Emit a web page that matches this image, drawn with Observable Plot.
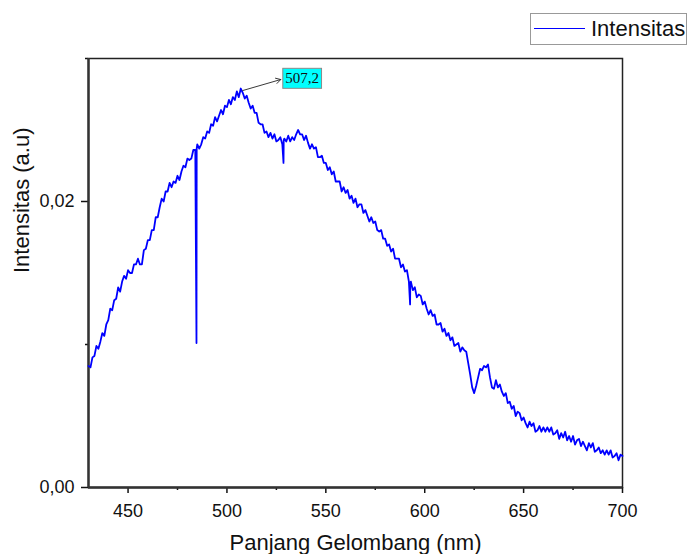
<!DOCTYPE html>
<html><head><meta charset="utf-8">
<script src="https://cdn.jsdelivr.net/npm/d3@7"></script>
<script src="https://cdn.jsdelivr.net/npm/@observablehq/plot@0.6"></script>
<style>
body{margin:0;background:#fff;}
#wrap{position:relative;width:688px;height:554px;font-family:"Liberation Sans",Arial,sans-serif;}
#legend{position:absolute;left:530px;top:13px;width:157px;height:32px;border:1.5px solid #999;background:#fff;box-sizing:border-box;}
#legend .sw{position:absolute;left:3px;top:14px;width:51px;height:0;border-top:1.6px solid #0000ff;}
#legend .lb{position:absolute;left:60px;top:1px;font-size:22px;line-height:28px;color:#111;}
</style></head>
<body>
<div id="wrap"><div id="legend"><div class="sw"></div><div class="lb">Intensitas</div></div></div>
<script>
// wavelengths 430..700 nm, step 1
const wavelengths = d3.range(430, 701);
const intensity = [
0.0085,0.0084,0.0091,0.0092,0.0099,0.0097,0.0102,0.0108,0.0106,0.0114,
0.0117,0.0125,0.0124,0.0131,0.0132,0.0140,0.0137,0.0144,0.0148,0.0146,
0.0152,0.0150,0.0150,0.0156,0.0156,0.0160,0.0156,0.0156,0.0166,0.0167,
0.0173,0.0173,0.0180,0.0180,0.0189,0.0189,0.0196,0.0202,0.0200,0.0207,
0.0207,0.0213,0.0210,0.0214,0.0213,0.0218,0.0215,0.0221,0.0225,0.0224,
0.0230,0.0229,0.0230,0.0236,0.0236,0.0240,0.0237,0.0240,0.0245,0.0244,
0.0249,0.0248,0.0254,0.0253,0.0259,0.0256,0.0260,0.0264,0.0261,0.0267,
0.0266,0.0271,0.0268,0.0273,0.0271,0.0277,0.0273,0.0279,0.0276,0.0272,
0.0274,0.0269,0.0265,0.0267,0.0262,0.0262,0.0255,0.0254,0.0254,0.0248,
0.0249,0.0245,0.0248,0.0244,0.0247,0.0242,0.0243,0.0245,0.0240,0.0244,
0.0242,0.0246,0.0242,0.0245,0.0243,0.0247,0.0250,0.0247,0.0247,0.0243,
0.0246,0.0241,0.0237,0.0240,0.0237,0.0238,0.0231,0.0231,0.0232,0.0227,
0.0227,0.0222,0.0224,0.0219,0.0221,0.0214,0.0214,0.0214,0.0207,0.0210,
0.0206,0.0208,0.0202,0.0204,0.0199,0.0202,0.0196,0.0198,0.0198,0.0192,
0.0194,0.0190,0.0186,0.0189,0.0185,0.0186,0.0180,0.0179,0.0180,0.0174,
0.0174,0.0169,0.0170,0.0165,0.0167,0.0160,0.0160,0.0160,0.0154,0.0156,
0.0151,0.0152,0.0144,0.0144,0.0138,0.0140,0.0133,0.0135,0.0134,0.0128,
0.0130,0.0125,0.0121,0.0124,0.0120,0.0121,0.0114,0.0114,0.0115,0.0109,
0.0111,0.0106,0.0108,0.0103,0.0105,0.0099,0.0100,0.0101,0.0095,0.0098,
0.0096,0.0095,0.0087,0.0079,0.0070,0.0066,0.0071,0.0077,0.0083,0.0082,
0.0085,0.0084,0.0086,0.0077,0.0070,0.0069,0.0075,0.0070,0.0072,0.0067,
0.0064,0.0066,0.0059,0.0060,0.0055,0.0057,0.0050,0.0053,0.0052,0.0047,
0.0049,0.0045,0.0042,0.0046,0.0043,0.0045,0.0039,0.0040,0.0043,0.0039,
0.0042,0.0039,0.0042,0.0039,0.0042,0.0037,0.0038,0.0040,0.0034,0.0038,
0.0035,0.0039,0.0033,0.0036,0.0032,0.0036,0.0030,0.0033,0.0034,0.0029,
0.0032,0.0029,0.0026,0.0031,0.0028,0.0031,0.0025,0.0026,0.0028,0.0024,
0.0026,0.0023,0.0026,0.0023,0.0026,0.0021,0.0022,0.0024,0.0019,0.0023,
0.0022
];
// narrow spikes in the spectrum
const spikeWl  = [484.6, 484.7, 528.6, 528.7, 592.6, 592.7];
const spikeVal = [0.0101, 0.0237, 0.0227, 0.0243, 0.0128, 0.0143];

const xMajor = [450, 500, 550, 600, 650, 700];
const xMinor = [475, 525, 575, 625, 675];
const yMajor = [0, 0.02];
const yMinor = [0.01, 0.03];

// peak annotation
const peakLabel = ["507,2"];
const arrowFromX = [508.0], arrowFromY = [0.02776];
const arrowToX = [527.2], arrowToY = [0.02853];
const labelX = [529.5], labelY = [0.0286];

const series = [
  ...wavelengths.map((w, i) => ({w, v: intensity[i]})),
  ...spikeWl.map((w, i) => ({w, v: spikeVal[i]}))
].sort((a, b) => a.w - b.w);

const fmtY = d => d.toFixed(2).replace(".", ",");

const chart = Plot.plot({
  width: 688, height: 554,
  marginLeft: 88, marginRight: 66, marginTop: 58, marginBottom: 67,
  style: {fontFamily: "Liberation Sans, Arial, sans-serif", fontSize: "18px", color: "#111", background: "white", overflow: "visible"},
  x: {domain: [430, 700]},
  y: {domain: [0, 0.03]},
  marks: [
    Plot.axisX({ticks: xMajor, tickSize: 6, tickPadding: 11, tickFormat: d => String(d), label: null, strokeWidth: 1.5, fontSize: 18}),
    Plot.axisX({ticks: xMinor, tickSize: 3, tickFormat: () => "", label: null, strokeWidth: 1.5}),
    Plot.axisY({ticks: yMajor, tickSize: 7, tickPadding: 7, tickFormat: fmtY, label: null, strokeWidth: 1.5, fontSize: 18}),
    Plot.axisY({ticks: yMinor, tickSize: 3, tickFormat: () => "", label: null, strokeWidth: 1.5}),
    Plot.frame({stroke: "#222", strokeWidth: 1.5}),
    Plot.ruleX([430], {stroke: "#333", strokeWidth: 2.4}),
    Plot.ruleY([0], {stroke: "#333", strokeWidth: 2.4}),
    Plot.line(series, {x: "w", y: "v", stroke: "#0000ff", strokeWidth: 1.8}),
    Plot.arrow(peakLabel, {x1: (d, i) => arrowFromX[i], y1: (d, i) => arrowFromY[i], x2: (d, i) => arrowToX[i], y2: (d, i) => arrowToY[i], stroke: "#222", strokeWidth: 0.9, headLength: 9}),
    Plot.text(peakLabel, {x: (d, i) => labelX[i], y: (d, i) => labelY[i], text: d => d, textAnchor: "start", fontFamily: "Liberation Serif, Times New Roman, serif", fontSize: 15, fill: "#111", className: "peak-label"}),
    Plot.text(["Intensitas (a.u)"], {frameAnchor: "left", rotate: -90, dx: -67, fontSize: 22, fill: "#111"}),
    Plot.text(["Panjang Gelombang (nm)"], {frameAnchor: "bottom", dy: 62, fontSize: 22, fill: "#111"})
  ]
});
const wrap = document.getElementById("wrap");
wrap.insertBefore(chart, wrap.firstChild);

// cyan box behind the peak label
const t = chart.querySelector("g.peak-label text");
if (t) {
  const b = t.getBBox();
  const r = document.createElementNS("http://www.w3.org/2000/svg", "rect");
  r.setAttribute("x", b.x - 2.5);
  r.setAttribute("y", b.y - 2);
  r.setAttribute("width", b.width + 5);
  r.setAttribute("height", b.height + 4);
  r.setAttribute("fill", "#00ffff");
  r.setAttribute("stroke", "#8a8a8a");
  r.setAttribute("stroke-width", "1");
  const tr = t.getAttribute("transform");
  if (tr) r.setAttribute("transform", tr);
  t.parentNode.insertBefore(r, t);
}
</script>
</body></html>
